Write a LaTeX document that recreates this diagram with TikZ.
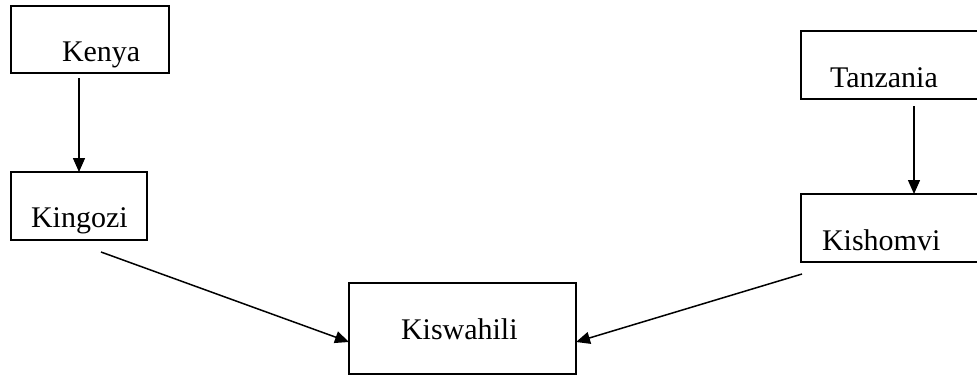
\documentclass[tikz,border=0pt]{standalone}
\usepackage{fontspec}
\setmainfont{Liberation Serif}
\usetikzlibrary{arrows.meta}
\begin{document}
\begin{tikzpicture}[x=1pt,y=-1pt,
  box/.style={draw=black,line width=1.4pt,rectangle,inner sep=0pt,outer sep=0pt},
  lbl/.style={inner sep=0pt,outer sep=0pt,anchor=base west,font=\fontsize{30}{36}\selectfont},
  arr/.style={line width=1.5pt,-{Triangle[length=14pt,width=12pt]}}]
\useasboundingbox[fill=white] (0,0) rectangle (977,375);
\begin{scope}
\clip (0,0) rectangle (977,375);
% boxes
\node[box,minimum width=158pt,minimum height=67pt] (kenya) at (90,39.5) {};
\node[box,minimum width=136pt,minimum height=68pt] (kingozi) at (79,206) {};
\node[box,minimum width=226pt,minimum height=68pt] (tanzania) at (914,65) {};
\node[box,minimum width=226pt,minimum height=68pt] (kishomvi) at (914,228) {};
\node[box,minimum width=227pt,minimum height=91pt] (kiswahili) at (462.5,328.5) {};
% texts
\node[lbl] (tkenya) at (62,61) {Kenya};
\node[lbl] (tkingozi) at (31,227) {Kingozi};
\node[lbl] (ttanzania) at (830,87) {Tanzania};
\node[lbl] (tkishomvi) at (822,250) {Kishomvi};
\node[lbl] (tkiswahili) at (401,339) {Kiswahili};
% connector endpoints
\coordinate (a1) at ([yshift=-5pt]kenya.south -| kingozi.north);
\coordinate (a2) at ([yshift=-7pt]tanzania.south);
\coordinate (b1) at (101,252);
\coordinate (b2) at (802,274);
% connectors
\draw[arr] (a1) -- (kingozi.north);
\draw[arr] (a2) -- (kishomvi.north);
\draw[arr] (b1) -- ([yshift=-13.5pt]kiswahili.west);
\draw[arr] (b2) -- ([yshift=-13.5pt]kiswahili.east);
\end{scope}
\end{tikzpicture}
\end{document}
